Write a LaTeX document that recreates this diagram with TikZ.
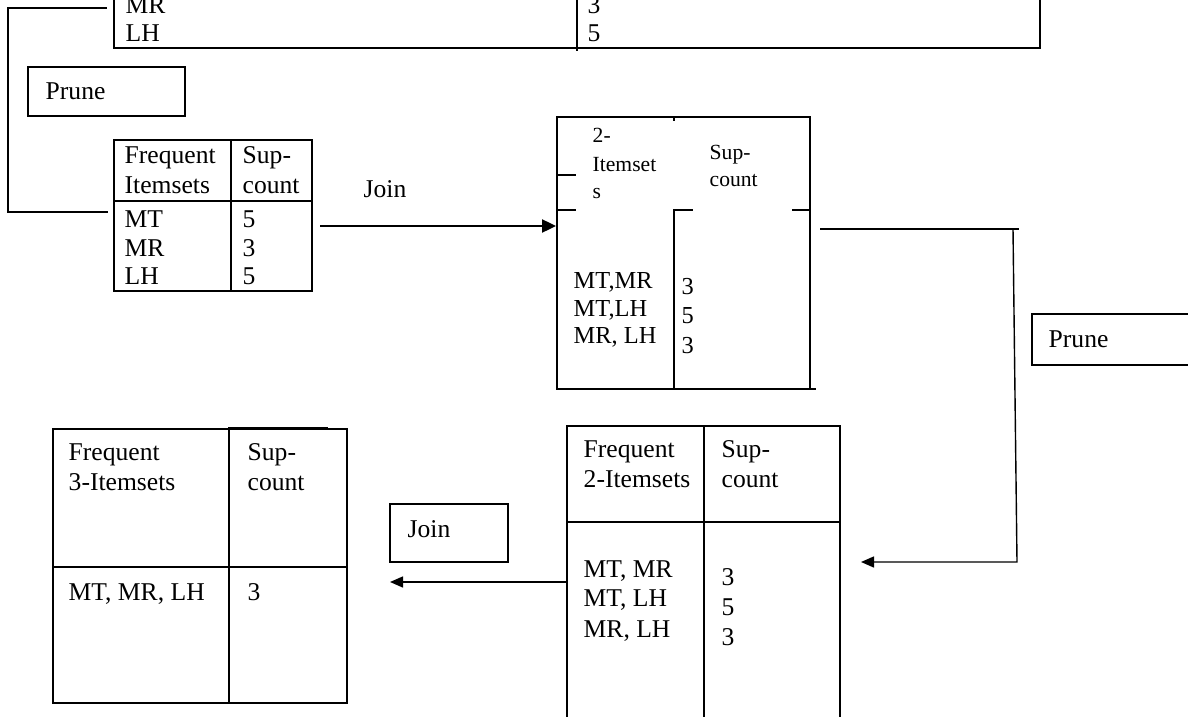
\documentclass[tikz,border=0pt]{standalone}
\usepackage{fontspec}
\setmainfont{Liberation Serif}
\usetikzlibrary{arrows.meta}
\begin{document}
\begin{tikzpicture}[x=0.5pt,y=-0.5pt,line width=0.7pt,line cap=rect,
  txt/.style={anchor=base west,inner sep=0pt,font=\fontsize{12.8}{15}\selectfont},
  smalltxt/.style={anchor=base west,inner sep=0pt,font=\fontsize{10.8}{13}\selectfont},
  midtxt/.style={anchor=base west,inner sep=0pt,font=\fontsize{12.2}{14}\selectfont},
  arr/.style={-{Triangle[length=7pt,width=6.5pt]}},
  arrs/.style={-{Triangle[length=6.5pt,width=5.5pt]}}]
\useasboundingbox (0,0) rectangle (1188,717);

% ---- top table (cut off) ----
\coordinate (T0a) at (114,-4);
\coordinate (T0b) at (114,48);
\coordinate (T0c) at (1040,48);
\coordinate (T0d) at (1040,-4);
\draw (T0a) -- (T0b) -- (T0c) -- (T0d);
\draw (577,-4) -- (577,50);
\node[txt] (t0r1) at (125,14) {MR};
\node[txt] (t0r2) at (125,42) {LH};
\node[txt] (t0s1) at (587,14) {3};
\node[txt] (t0s2) at (587,42) {5};

% ---- left connector ----
\coordinate (c1a) at (106,8);
\coordinate (c1b) at (8,8);
\coordinate (c1c) at (8,212);
\coordinate (c1d) at (107,212);
\draw (c1a) -- (c1b) -- (c1c) -- (c1d);

% ---- prune box 1 ----
\draw (28,67) rectangle (185,116);
\node[txt] (prune1) at (45,100) {Prune};

% ---- table 1 ----
\coordinate (t1nw) at (114,140);
\coordinate (t1se) at (312,291);
\draw (t1nw) rectangle (t1se);
\draw (231,140) -- (231,291);
\draw (114,201) -- (312,201);
\node[txt] (t1h1) at (124,163) {Frequent};
\node[txt] (t1h2) at (124,193) {Itemsets};
\node[txt] (t1h3) at (242,163) {Sup-};
\node[txt] (t1h4) at (242,193) {count};
\node[txt] (t1a) at (124,227) {MT};
\node[txt] (t1b) at (124,256) {MR};
\node[txt] (t1c) at (124,284) {LH};
\node[txt] (t1d) at (242,227) {5};
\node[txt] (t1e) at (242,256) {3};
\node[txt] (t1f) at (242,284) {5};

% ---- join arrow 1 ----
\coordinate (j1s) at (320,226);
\coordinate (j1e) at (556,226);
\draw[arr,line width=1.2pt,line cap=butt] (j1s) -- (j1e);
\node[txt] (join1) at (363,197) {Join};

% ---- table 2 (candidate 2-itemsets) ----
\draw (557,117) -- (810,117) -- (810,389);
\draw (557,117) -- (557,389) -- (815,389);
\draw (674,210) -- (674,389);
\draw (674,117) -- (674,120);
\draw (557,175) -- (575,175);
\draw (557,210) -- (575,210);
\draw (674,210) -- (692,210);
\draw (793,210) -- (810,210);
\node[smalltxt] (t2h1) at (592,142) {2-};
\node[smalltxt] (t2h2) at (592,171) {Itemset};
\node[smalltxt] (t2h3) at (592,198) {s};
\node[smalltxt] (t2h4) at (709,159) {Sup-};
\node[smalltxt] (t2h5) at (709,186) {count};
\node[midtxt] (t2a) at (573,288) {MT,MR};
\node[midtxt] (t2b) at (573,316) {MT,LH};
\node[midtxt] (t2c) at (573,343) {MR, LH};
\node[midtxt] (t2d) at (681,294) {3};
\node[midtxt] (t2e) at (681,323) {5};
\node[midtxt] (t2f) at (681,353) {3};

% ---- right connector ----
\coordinate (c2a) at (821,229);
\coordinate (c2b) at (1018,229);
\coordinate (c2c) at (1013,229);
\coordinate (c2d) at (1017,562);
\coordinate (c2e) at (861,562);
\draw (c2a) -- (c2b);
\draw[arrs,line cap=butt] (c2c) -- (c2d) -- (c2e);

% ---- prune box 2 ----
\draw (1032,314) rectangle (1196,365);
\node[txt] (prune2) at (1048,347) {Prune};

% ---- table 3 (frequent 2-itemsets) ----
\draw (567,730) -- (567,426) -- (840,426) -- (840,730);
\draw (704,426) -- (704,730);
\draw (567,522) -- (840,522);
\node[txt] (t3h1) at (583,457) {Frequent};
\node[txt] (t3h2) at (583,487) {2-Itemsets};
\node[txt] (t3h3) at (721,457) {Sup-};
\node[txt] (t3h4) at (721,487) {count};
\node[txt] (t3a) at (583,577) {MT, MR};
\node[txt] (t3b) at (583,606) {MT, LH};
\node[txt] (t3c) at (583,637) {MR, LH};
\node[txt] (t3d) at (721,585) {3};
\node[txt] (t3e) at (721,615) {5};
\node[txt] (t3f) at (721,645) {3};

% ---- join arrow 2 ----
\coordinate (j2s) at (567,582);
\coordinate (j2e) at (390,582);
\draw[arrs,line cap=butt] (j2s) -- (j2e);
\draw (390,504) rectangle (508,562);
\node[txt] (join2) at (407,537) {Join};

% ---- table 4 (frequent 3-itemsets) ----
\draw (53,429) rectangle (347,703);
\draw (229,429) -- (229,703);
\draw (53,567) -- (347,567);
\draw[line width=1pt] (229,428) -- (327,428);
\node[txt] (t4h1) at (68,460) {Frequent};
\node[txt] (t4h2) at (68,490) {3-Itemsets};
\node[txt] (t4h3) at (247,460) {Sup-};
\node[txt] (t4h4) at (247,490) {count};
\node[txt] (t4a) at (68,600) {MT, MR, LH};
\node[txt] (t4b) at (247,600) {3};
\end{tikzpicture}
\end{document}
